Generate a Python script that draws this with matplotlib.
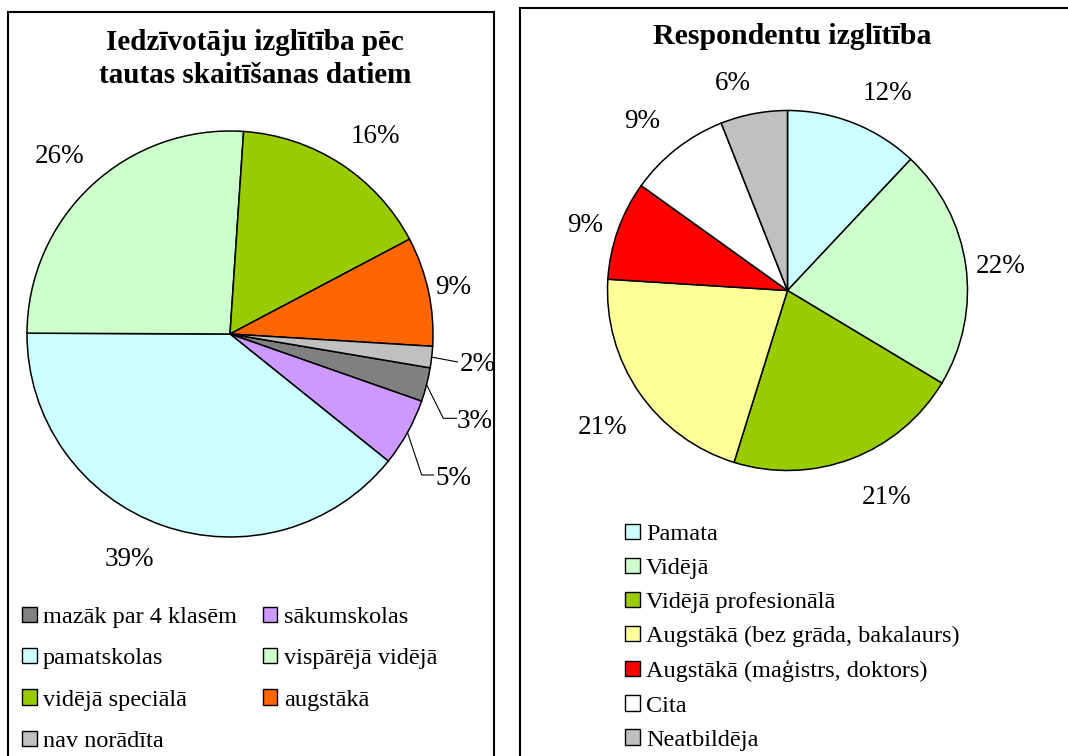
import matplotlib
matplotlib.use("Agg")
import matplotlib.pyplot as plt
from matplotlib.patches import Rectangle, Patch
import numpy as np

W, H = 1068, 756
SERIF = ["Liberation Serif", "DejaVu Serif"]

# ---------------- data ----------------
left_title = "Iedzīvotāju izglītība pēc\ntautas skaitīšanas datiem"
left_categories = ["mazāk par 4 klasēm", "sākumskolas", "pamatskolas",
                   "vispārējā vidējā", "vidējā speciālā", "augstākā", "nav norādīta"]
left_values = [2.7, 5.4, 39.3, 26.0, 16.2, 8.7, 1.7]
left_colors = ["#808080", "#CC99FF", "#CCFFFF", "#CCFFCC", "#99CC00", "#FF6600", "#C0C0C0"]

right_title = "Respondentu izglītība"
right_categories = ["Pamata", "Vidējā", "Vidējā profesionālā",
                    "Augstākā (bez grāda, bakalaurs)", "Augstākā (maģistrs, doktors)",
                    "Cita", "Neatbildēja"]
right_values = [12.0, 21.6, 21.2, 21.2, 8.9, 9.1, 6.0]
right_colors = ["#CCFFFF", "#CCFFCC", "#99CC00", "#FFFF99", "#FF0000", "#FFFFFF", "#C0C0C0"]

# ---------------- layout (pixel coordinates, y down) ----------------
L_CENTER, L_R, L_START = (230, 334), 203, 99.6     # start: degrees clockwise from 12 o'clock
R_CENTER, R_R, R_START = (787.5, 290.5), 180, 0.0
left_label_pos = [(475, 428.3), (453.3, 485), (129.3, 565.7), (60, 163.3),
                  (375, 142.7), (453.3, 294.3), (478.3, 371)]
left_leader_pts = {0: [(443.3, 418.3), (457, 418.3)],
                   1: [(421.7, 475), (434, 475)],
                   6: [(458, 362)]}
right_label_pos = [(887.7, 100), (1001, 272.7), (886.7, 504), (602.7, 434.3),
                   (585, 231.7), (641.7, 128.3), (733.3, 90)]

def Y(y):
    return H - y

fig = plt.figure(figsize=(W / 100, H / 100), dpi=100)
ax = fig.add_axes([0, 0, 1, 1])

def draw_pie(values, colors, center, r, start):
    wedges, _ = ax.pie(values, colors=colors, startangle=90 - start, counterclock=False,
                       center=(center[0], Y(center[1])), radius=r,
                       wedgeprops=dict(edgecolor="black", linewidth=1.1))
    return wedges

lw = draw_pie(left_values, left_colors, L_CENTER, L_R, L_START)
rw = draw_pie(right_values, right_colors, R_CENTER, R_R, R_START)

# percentage labels
for v, (x, y) in zip(left_values, left_label_pos):
    ax.text(x, Y(y), f"{round(v)}%", ha="center", va="baseline",
            fontsize=19.5, family=SERIF)
for v, (x, y) in zip(right_values, right_label_pos):
    ax.text(x, Y(y), f"{round(v)}%", ha="center", va="baseline",
            fontsize=19.5, family=SERIF)

# leader lines for small slices (left pie)
for i, pts in left_leader_pts.items():
    w = lw[i]
    mid = np.deg2rad((w.theta1 + w.theta2) / 2)
    x0 = L_CENTER[0] + L_R * np.cos(mid)
    y0 = Y(L_CENTER[1]) + L_R * np.sin(mid)
    xs = [x0] + [p[0] for p in pts]
    ys = [y0] + [Y(p[1]) for p in pts]
    ax.plot(xs, ys, color="black", lw=0.8, solid_capstyle="butt")

# titles
t1, t2 = left_title.split("\n")
ax.text(255, Y(50), t1, ha="center", va="baseline", fontsize=21,
        fontweight="bold", family=SERIF)
ax.text(255, Y(83.3), t2, ha="center", va="baseline", fontsize=21,
        fontweight="bold", family=SERIF)
ax.text(792, Y(44.3), right_title, ha="center", va="baseline", fontsize=21.5,
        fontweight="bold", family=SERIF)

# panel borders
ax.add_patch(Rectangle((8, Y(770)), 486, 770 - 12, fill=False, lw=1.5,
                       edgecolor="black", clip_on=False))
ax.add_patch(Rectangle((520, Y(770)), 600, 770 - 7.5, fill=False, lw=1.5,
                       edgecolor="black", clip_on=False))

# legends (left legend is filled row by row, as in the reference)
order = [0, 2, 4, 6, 1, 3, 5]
lh = [Patch(facecolor=left_colors[i], edgecolor="black", lw=1.0) for i in order]
ll = [left_categories[i] for i in order]
leg1 = ax.legend(lh, ll, ncol=2, loc="upper left",
                 bbox_to_anchor=(22, Y(606.5)), bbox_transform=ax.transData,
                 frameon=False, borderpad=0, borderaxespad=0,
                 handlelength=0.6, handleheight=0.6, handletextpad=0.27,
                 labelspacing=0.83, columnspacing=1.05,
                 prop=dict(family=SERIF, size=17.5))
ax.add_artist(leg1)
rh = [Patch(facecolor=c, edgecolor="black", lw=1.0) for c in right_colors]
ax.legend(rh, right_categories, ncol=1, loc="upper left",
          bbox_to_anchor=(625, Y(523.5)), bbox_transform=ax.transData,
          frameon=False, borderpad=0, borderaxespad=0,
          handlelength=0.6, handleheight=0.6, handletextpad=0.27,
          labelspacing=0.53,
          prop=dict(family=SERIF, size=17.5))

ax.set_xlim(0, W)
ax.set_ylim(0, H)
ax.set_aspect("auto")
ax.axis("off")

fig.savefig("out.png", dpi=100)
